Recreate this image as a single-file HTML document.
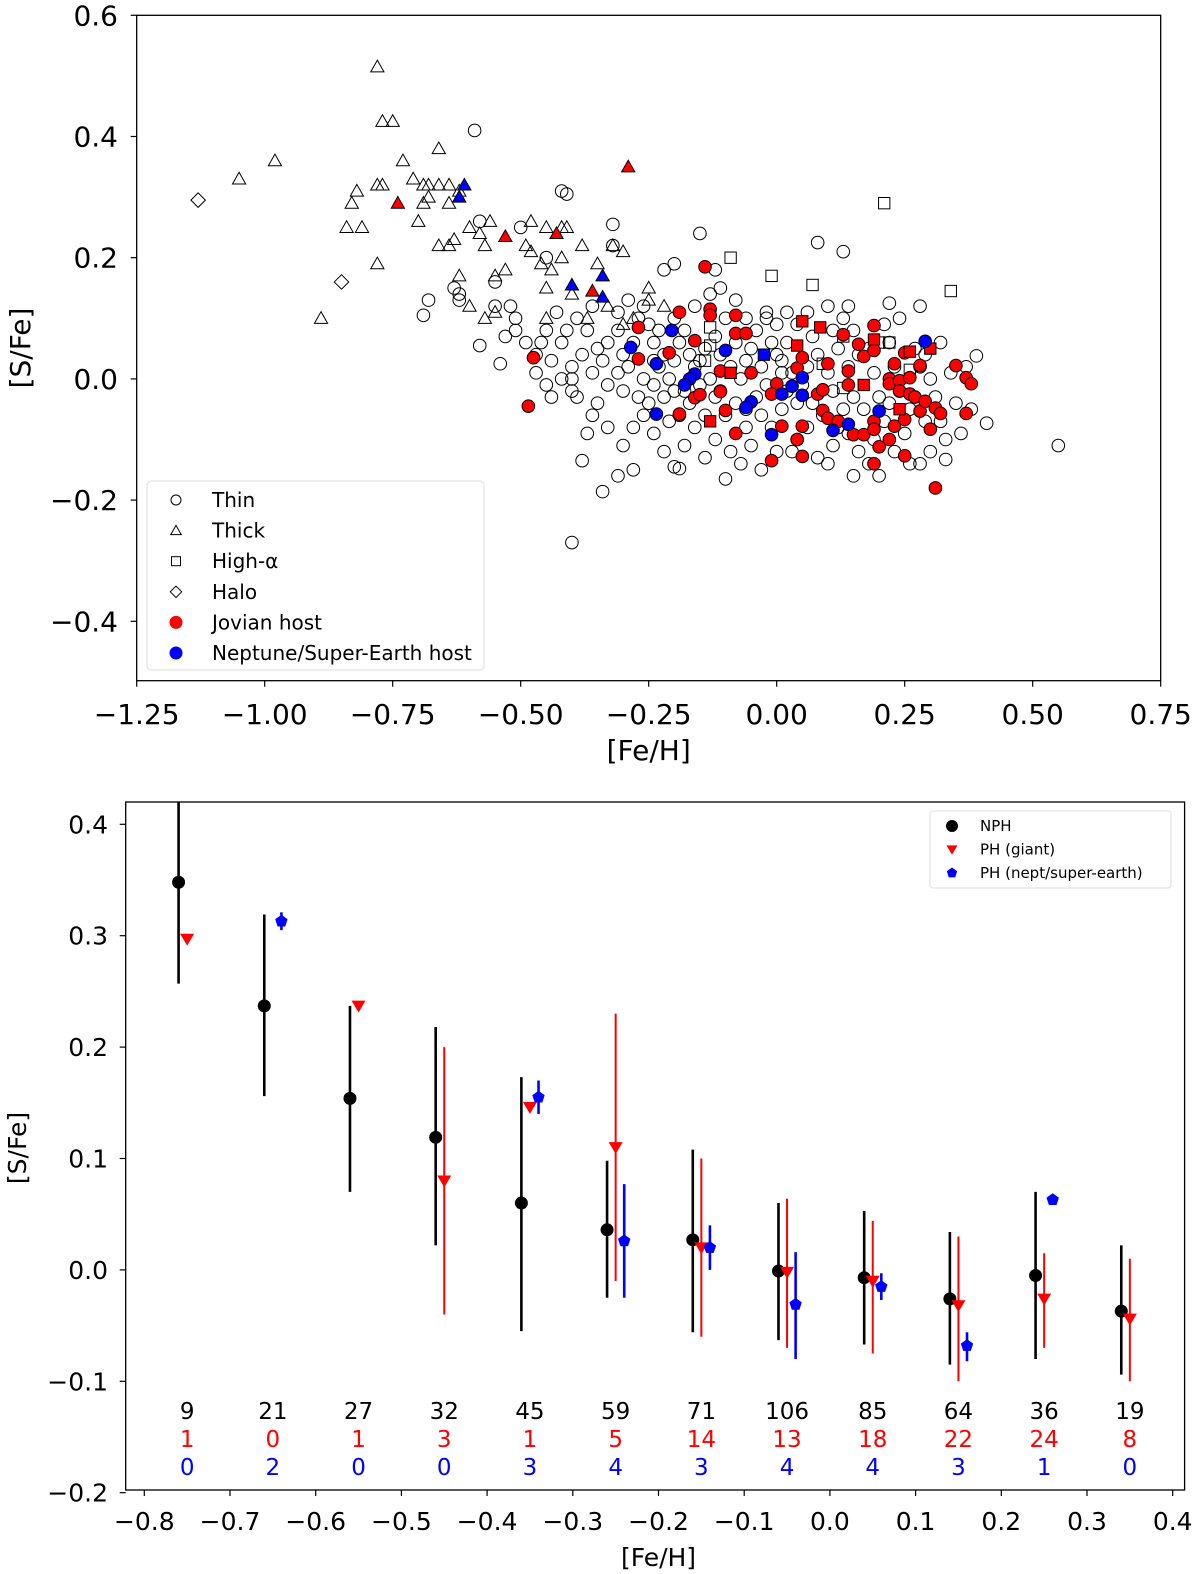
<!DOCTYPE html>
<html><head><meta charset="utf-8"><style>
html,body{margin:0;padding:0;background:#fff;}
svg{display:block;font-family:"DejaVu Sans","Liberation Sans",sans-serif;}
</style></head><body>
<svg id="fig" width="1200" height="1574" viewBox="0 0 1200 1574" xmlns="http://www.w3.org/2000/svg">
<g id="topPanel"></g>
<g id="botPanel"></g>
</svg>
<script>
// ---------- TOP PANEL DATA ----------
const thinPts = [[-0.59,0.41],[-0.40,-0.27],[0.55,-0.11],[0.41,-0.073],[0.39,0.038],[0.28,0.12],[0.22,0.125],[0.13,0.21],[0.08,0.225],[-0.15,0.24],[-0.32,0.255],[-0.68,0.13],[-0.69,0.105],[-0.58,0.055],[-0.54,0.025],[-0.34,-0.186],[-0.31,-0.16],[-0.28,-0.15],[-0.37,-0.09],[-0.38,-0.135],[-0.20,-0.145],[-0.19,-0.148],[-0.10,-0.165],[0.15,-0.16],[0.33,-0.133],[-0.32,0.22],[-0.41,0.305],[-0.42,0.31],[-0.45,0.20],[-0.63,0.15],[-0.62,0.13],[-0.62,0.14],[-0.58,0.26],[-0.50,0.25],[-0.55,0.16],[-0.55,0.12],[-0.52,0.12],[-0.51,0.10],[-0.51,0.08],[-0.53,0.07],[-0.46,0.06],[-0.45,0.08],[-0.47,0.04],[-0.44,0.03],[-0.42,0.06],[-0.41,0.08],[-0.43,0.11],[-0.39,0.10],[-0.36,0.12],[-0.37,0.08],[-0.38,0.04],[-0.40,0.02],[-0.40,0.00],[-0.40,-0.02],[-0.39,-0.03],[-0.35,0.05],[-0.34,0.03],[-0.33,0.06],[-0.31,0.08],[-0.30,0.04],[-0.29,0.02],[-0.28,0.06],[-0.27,0.10],[-0.25,0.09],[-0.24,0.06],[-0.22,0.04],[-0.31,0.01],[-0.33,-0.01],[-0.35,-0.04],[-0.30,-0.02],[-0.27,-0.03],[-0.26,0.0],[-0.24,-0.01],[-0.23,0.02],[-0.21,0.0],[-0.22,-0.03],[-0.20,0.03],[-0.19,0.06],[-0.18,0.08],[-0.17,0.04],[-0.16,0.02],[-0.18,-0.02],[-0.17,-0.04],[-0.15,-0.01],[-0.14,0.05],[-0.12,0.07],[-0.11,0.04],[-0.13,0.0],[-0.12,-0.03],[-0.14,-0.06],[-0.16,-0.08],[-0.19,-0.06],[-0.21,-0.07],[-0.24,-0.09],[-0.26,-0.06],[-0.28,-0.08],[-0.30,-0.11],[-0.18,-0.11],[-0.12,-0.10],[-0.09,-0.12],[-0.07,-0.14],[-0.05,-0.11],[-0.10,-0.06],[-0.08,-0.04],[-0.07,0.0],[-0.06,0.03],[-0.08,0.06],[-0.05,0.05],[-0.04,0.08],[-0.02,0.10],[-0.01,0.06],[0.00,0.04],[-0.03,0.02],[-0.02,-0.01],[-0.04,-0.03],[-0.06,-0.05],[-0.03,-0.06],[-0.01,-0.08],[0.01,-0.05],[0.02,-0.02],[0.03,0.01],[0.02,0.06],[0.04,0.09],[0.06,0.11],[0.07,0.07],[0.08,0.04],[0.06,0.02],[0.05,-0.01],[0.07,-0.04],[0.09,-0.06],[0.06,-0.08],[0.04,-0.10],[0.03,-0.12],[0.08,-0.13],[0.11,-0.11],[0.12,-0.08],[0.11,-0.02],[0.10,0.01],[0.12,0.05],[0.11,0.08],[0.13,0.10],[0.15,0.08],[0.16,0.04],[0.14,0.02],[0.15,-0.03],[0.17,-0.05],[0.16,-0.12],[0.18,-0.14],[0.19,-0.10],[0.21,-0.07],[0.20,-0.03],[0.19,0.01],[0.18,0.05],[0.21,0.09],[0.22,0.06],[0.23,0.02],[0.24,-0.02],[0.23,-0.12],[0.25,-0.09],[0.26,-0.05],[0.27,0.05],[0.29,0.04],[0.30,0.0],[0.31,-0.03],[0.32,-0.07],[0.33,-0.10],[0.30,-0.12],[0.34,0.01],[0.35,-0.04],[0.36,-0.09],[0.37,0.02],[0.38,-0.05],[0.28,-0.14],[0.26,-0.14],[0.20,-0.16],[0.10,-0.14],[0.00,-0.12],[-0.03,-0.15],[-0.14,-0.13],[-0.22,-0.12],[-0.45,-0.01],[-0.47,0.01],[-0.49,0.06],[-0.36,-0.06],[-0.33,-0.08],[-0.23,0.08],[-0.20,0.10],[-0.16,0.12],[-0.10,0.10],[-0.08,0.13],[-0.06,0.10],[0.00,0.09],[0.02,0.11],[-0.12,0.18],[-0.11,0.15],[-0.13,0.14],[-0.02,0.11],[-0.20,0.19],[-0.22,0.18],[-0.26,0.12],[-0.31,0.11],[-0.29,0.13],[0.10,0.12],[0.14,0.12],[0.24,0.10],[0.32,0.06],[0.28,0.02],[-0.25,-0.04],[-0.20,-0.02],[-0.11,-0.02],[-0.09,0.02],[0.01,0.01],[0.04,-0.04],[0.13,-0.05],[0.14,-0.09],[0.22,-0.04],[0.29,-0.07],[-0.06,-0.08],[0.01,0.03],[-0.15,0.03],[-0.24,0.03],[-0.36,0.01],[-0.42,0.0],[-0.44,-0.03]];
const thickPts = [[-0.78,0.515],[-0.77,0.425],[-0.75,0.425],[-0.98,0.36],[-1.05,0.33],[-0.66,0.38],[-0.73,0.36],[-0.78,0.32],[-0.77,0.32],[-0.82,0.31],[-0.83,0.29],[-0.84,0.25],[-0.81,0.25],[-0.78,0.19],[-0.89,0.10],[-0.71,0.33],[-0.69,0.32],[-0.68,0.32],[-0.66,0.32],[-0.64,0.32],[-0.62,0.31],[-0.68,0.30],[-0.69,0.29],[-0.64,0.29],[-0.70,0.26],[-0.66,0.22],[-0.64,0.22],[-0.63,0.23],[-0.60,0.25],[-0.57,0.22],[-0.56,0.26],[-0.58,0.24],[-0.62,0.17],[-0.49,0.22],[-0.48,0.21],[-0.53,0.18],[-0.55,0.17],[-0.46,0.19],[-0.44,0.18],[-0.42,0.20],[-0.45,0.15],[-0.48,0.26],[-0.45,0.25],[-0.42,0.25],[-0.41,0.25],[-0.38,0.22],[-0.35,0.19],[-0.32,0.22],[-0.30,0.21],[-0.40,0.14],[-0.33,0.12],[-0.25,0.15],[-0.25,0.13],[-0.55,0.11],[-0.57,0.10],[-0.45,0.10],[-0.60,0.12],[-0.37,0.10],[-0.30,0.09],[-0.28,0.10],[-0.22,0.12]];
const highAlphaPts = [[0.21,0.29],[0.34,0.145],[-0.09,0.20],[-0.01,0.17],[0.07,0.155],[-0.13,0.085],[0.20,0.06],[0.22,0.06],[0.13,0.07],[0.09,0.025],[0.26,0.015],[0.13,-0.015],[-0.13,0.055],[-0.14,0.03]];
const haloPts = [[-1.13,0.295],[-0.85,0.16]];
const jovCirc = [[-0.14,0.185],[-0.19,0.11],[-0.13,0.115],[-0.13,0.105],[-0.08,0.105],[-0.08,0.075],[-0.06,0.075],[-0.27,0.085],[-0.16,0.063],[-0.21,0.043],[-0.27,0.033],[-0.475,0.035],[-0.485,-0.045],[-0.19,-0.058],[-0.16,-0.031],[-0.15,-0.026],[-0.11,-0.021],[-0.10,-0.052],[-0.08,-0.09],[-0.05,0.01],[0.00,-0.008],[-0.01,-0.025],[0.01,-0.078],[-0.01,-0.135],[0.04,0.018],[0.05,0.035],[0.05,-0.078],[0.04,-0.10],[0.05,-0.128],[0.10,0.025],[0.08,-0.025],[0.09,-0.018],[0.09,-0.052],[0.10,-0.065],[0.12,-0.07],[0.14,0.013],[0.14,-0.01],[0.13,0.073],[0.16,0.057],[0.17,0.037],[0.19,0.088],[0.19,0.047],[0.15,-0.092],[0.17,-0.092],[0.19,-0.07],[0.19,-0.083],[0.20,-0.112],[0.22,-0.10],[0.19,-0.14],[0.23,0.025],[0.22,0.0],[0.22,-0.008],[0.24,-0.003],[0.24,-0.02],[0.26,0.002],[0.26,-0.025],[0.27,-0.03],[0.25,0.043],[0.28,0.022],[0.23,-0.078],[0.25,-0.067],[0.25,-0.127],[0.28,-0.053],[0.29,-0.037],[0.30,-0.083],[0.31,-0.048],[0.32,-0.057],[0.31,-0.18],[0.35,0.022],[0.37,0.002],[0.38,-0.008],[0.37,-0.057],[-0.11,0.013]];
const jovTri = [[-0.74,0.29],[-0.29,0.35],[-0.53,0.235],[-0.43,0.24],[-0.36,0.145]];
const jovSq = [[0.05,0.095],[0.085,0.085],[0.04,0.055],[0.19,0.065],[0.30,0.05],[0.26,0.045],[-0.09,0.01],[0.17,-0.01],[-0.13,-0.07],[0.24,-0.05]];
const nepCirc = [[-0.205,0.08],[-0.285,0.052],[-0.235,0.025],[-0.16,0.008],[-0.17,0.0],[-0.235,-0.058],[-0.10,0.047],[-0.05,-0.038],[-0.06,-0.047],[-0.01,-0.092],[0.01,-0.025],[0.03,-0.012],[0.05,0.002],[0.05,-0.027],[0.11,-0.085],[0.14,-0.075],[0.20,-0.053],[0.29,0.062],[-0.18,-0.01]];
const nepTri = [[-0.61,0.32],[-0.62,0.30],[-0.40,0.155],[-0.34,0.17],[-0.34,0.135]];
const nepSq = [[-0.025,0.04]];
const topXTicks = [-1.25,-1.00,-0.75,-0.50,-0.25,0.00,0.25,0.50,0.75];
const topXLabels = ["−1.25","−1.00","−0.75","−0.50","−0.25","0.00","0.25","0.50","0.75"];
const topYTicks = [0.6,0.4,0.2,0.0,-0.2,-0.4];
const topYLabels = ["0.6","0.4","0.2","0.0","−0.2","−0.4"];
const topLegend = ["Thin","Thick","High-α","Halo","Jovian host","Neptune/Super-Earth host"];

// ---------- BOTTOM PANEL DATA ----------
const binCenters = [-0.75,-0.65,-0.55,-0.45,-0.35,-0.25,-0.15,-0.05,0.05,0.15,0.25,0.35];
const nphMean = [0.348,0.237,0.154,0.119,0.060,0.036,0.027,-0.001,-0.007,-0.026,-0.005,-0.037];
const nphHi = [0.44,0.319,0.237,0.218,0.173,0.098,0.108,0.060,0.053,0.034,0.070,0.022];
const nphLo = [0.257,0.156,0.070,0.022,-0.055,-0.025,-0.056,-0.063,-0.067,-0.085,-0.080,-0.094];
const phgMean = [0.297,null,0.237,0.080,0.146,0.110,0.020,-0.002,-0.010,-0.032,-0.026,-0.044];
const phgHi = [null,null,null,0.200,null,0.230,0.100,0.064,0.044,0.030,0.015,0.010];
const phgLo = [null,null,null,-0.040,null,-0.010,-0.060,-0.070,-0.075,-0.100,-0.070,-0.100];
const phnMean = [null,0.313,null,null,0.155,0.026,0.020,-0.031,-0.015,-0.068,0.063,null];
const phnHi = [null,0.321,null,null,0.170,0.077,0.040,0.016,-0.003,-0.056,null,null];
const phnLo = [null,0.305,null,null,0.140,-0.025,0.000,-0.080,-0.027,-0.082,null,null];
const countNPH = [9,21,27,32,45,59,71,106,85,64,36,19];
const countGiant = [1,0,1,3,1,5,14,13,18,22,24,8];
const countNept = [0,2,0,0,3,4,3,4,4,3,1,0];
const botXTicks = [-0.8,-0.7,-0.6,-0.5,-0.4,-0.3,-0.2,-0.1,0.0,0.1,0.2,0.3,0.4];
const botXLabels = ["−0.8","−0.7","−0.6","−0.5","−0.4","−0.3","−0.2","−0.1","0.0","0.1","0.2","0.3","0.4"];
const botYTicks = [0.4,0.3,0.2,0.1,0.0,-0.1,-0.2];
const botYLabels = ["0.4","0.3","0.2","0.1","0.0","−0.1","−0.2"];
const botLegend = ["NPH","PH (giant)","PH (nept/super-earth)"];

const NS="http://www.w3.org/2000/svg";
function mk(tag, attrs, parent){const e=document.createElementNS(NS,tag);for(const k in attrs)e.setAttribute(k,attrs[k]);parent.appendChild(e);return e;}

// axis functions
const tx = v => 136.7 + (v + 1.25) * 512;
const ty = v => 15.3 + (0.6 - v) * 606;
const bx = v => 829.9 + v * 857;
const by = v => 824.3 + (0.4 - v) * 1114;

function marker(g, shape, cx, cy, fill, stroke, s){
  let e;
  if(shape==='circle'){e=mk('circle',{cx:cx,cy:cy,r:s,fill:fill,stroke:stroke,'stroke-width':1},g);}
  else if(shape==='tri'){e=mk('polygon',{points:`${cx},${cy-s*1.05} ${cx-s*1.05},${cy+s*0.8} ${cx+s*1.05},${cy+s*0.8}`,fill:fill,stroke:stroke,'stroke-width':1},g);}
  else if(shape==='sq'){e=mk('rect',{x:cx-s*0.9,y:cy-s*0.9,width:s*1.8,height:s*1.8,fill:fill,stroke:stroke,'stroke-width':1},g);}
  else if(shape==='dia'){e=mk('polygon',{points:`${cx},${cy-s*1.15} ${cx+s*1.15},${cy} ${cx},${cy+s*1.15} ${cx-s*1.15},${cy}`,fill:fill,stroke:stroke,'stroke-width':1},g);}
  else if(shape==='dtri'){e=mk('polygon',{points:`${cx-s},${cy-s*0.75} ${cx+s},${cy-s*0.75} ${cx},${cy+s*0.95}`,fill:fill,stroke:'none'},g);}
  else if(shape==='pent'){let p=[];for(let i=0;i<5;i++){const a=-Math.PI/2+i*2*Math.PI/5;p.push((cx+s*Math.cos(a)).toFixed(1)+','+(cy+s*Math.sin(a)).toFixed(1));}e=mk('polygon',{points:p.join(' '),fill:fill,stroke:'none'},g);}
  return e;
}

// ---------- TOP ----------
const topG=document.getElementById('topPanel');
const tL=136.7,tR=1160.7,tT=15.3,tB=680.7;
function drawSet(pts, shape, fill, name, s){
  const g=mk('g',{},topG);
  
  
  pts.forEach(p=>{
    const m=marker(g,shape,tx(p[0]),ty(p[1]),fill,'#000',s);
    
    
  });
}
drawSet(thinPts,'circle','none','thin',6.3);
drawSet(thickPts,'tri','none','thick',6.3);
drawSet(highAlphaPts,'sq','none','high-alpha',6.3);
drawSet(haloPts,'dia','none','halo',6.3);
drawSet(jovCirc,'circle','#ff0000','jovian-host',6.3);
drawSet(jovTri,'tri','#ff0000','jovian-host-thick',6.3);
drawSet(jovSq,'sq','#ff0000','jovian-host-high-alpha',6.3);
drawSet(nepCirc,'circle','#0000ff','neptune-host',6.3);
drawSet(nepTri,'tri','#0000ff','neptune-host-thick',6.3);
drawSet(nepSq,'sq','#0000ff','neptune-host-high-alpha',6.3);

const fr=mk('rect',{x:tL,y:tT,width:tR-tL,height:tB-tT,fill:'none',stroke:'#000','stroke-width':1.3},topG);


topXTicks.forEach((v,i)=>{
  mk('line',{x1:tx(v),x2:tx(v),y1:tB,y2:tB+6,stroke:'#000','stroke-width':1.2},topG);
  const t=mk('text',{x:tx(v),y:724,'font-size':28,'text-anchor':'middle',fill:'#000'},topG);
  t.textContent=topXLabels[i];
  
  
});
topYTicks.forEach((v,i)=>{
  mk('line',{x1:tL-6,x2:tL,y1:ty(v),y2:ty(v),stroke:'#000','stroke-width':1.2},topG);
  const t=mk('text',{x:118,y:ty(v)+10,'font-size':28,'text-anchor':'end',fill:'#000'},topG);
  t.textContent=topYLabels[i];
  
  
});
const xt=mk('text',{x:tx(-0.25),y:760,'font-size':28,'text-anchor':'middle'},topG);xt.textContent='[Fe/H]';


const yt=mk('text',{x:0,y:0,'font-size':28,'text-anchor':'middle',transform:'translate(30,348) rotate(-90)'},topG);yt.textContent='[S/Fe]';



// legend top
const lg=mk('g',{},topG);


mk('rect',{x:147,y:481,width:337,height:189,rx:4,fill:'#fff','fill-opacity':0.8,stroke:'#ddd','stroke-width':1},lg);
const legShapes=[['circle','none'],['tri','none'],['sq','none'],['dia','none'],['circle','#ff0000'],['circle','#0000ff']];
topLegend.forEach((lab,i)=>{
  const yy=500+i*30.6;
  const sh=legShapes[i][0], fill=legShapes[i][1];
  const sz=i>=4?6:5;
  marker(lg,sh,176,yy,fill,i>=4?fill:'#000',sz);
  const t=mk('text',{x:212,y:yy+7,'font-size':20,fill:'#000'},lg);
  t.textContent=lab;
  
  
});

// ---------- BOTTOM ----------
const botG=document.getElementById('botPanel');
const bL=125.7,bR=1184.6,bT=802,bB=1490;
const clip=mk('clipPath',{id:'bclip'},botG);
mk('rect',{x:bL,y:bT,width:bR-bL,height:bB-bT},clip);
const pg=mk('g',{'clip-path':'url(#bclip)'},botG);
function errSeries(means,his,los,off,color,shape,name,lw,s){
  const g=mk('g',{},pg);
  
  
  means.forEach((m,i)=>{
    if(m===null)return;
    const x=bx(binCenters[i]+off);
    if(his[i]!==null){
      const l=mk('line',{x1:x,x2:x,y1:by(his[i]),y2:by(los[i]),stroke:color,'stroke-width':lw},g);
      
      
    }
    const mm=marker(g,shape,x,by(m),color,color,s);
    
    
  });
}
errSeries(nphMean,nphHi,nphLo,-0.01,'#000','circle','nph',2.6,6);
errSeries(phgMean,phgHi,phgLo,0.0,'#ff0000','dtri','ph-giant',2,7);
errSeries(phnMean,phnHi,phnLo,0.01,'#0000ff','pent','ph-nept',2.6,6.5);

const fr2=mk('rect',{x:bL,y:bT,width:bR-bL,height:bB-bT,fill:'none',stroke:'#000','stroke-width':1.3},botG);


botXTicks.forEach((v,i)=>{
  mk('line',{x1:bx(v),x2:bx(v),y1:bB,y2:bB+6,stroke:'#000','stroke-width':1.2},botG);
  const t=mk('text',{x:bx(v),y:1530,'font-size':25,'text-anchor':'middle',fill:'#000'},botG);
  t.textContent=botXLabels[i];
  
  
});
botYTicks.forEach((v,i)=>{
  mk('line',{x1:bL-6,x2:bL,y1:by(v),y2:by(v),stroke:'#000','stroke-width':1.2},botG);
  const t=mk('text',{x:108,y:by(v)+9,'font-size':25,'text-anchor':'end',fill:'#000'},botG);
  t.textContent=botYLabels[i];
  
  
});
const xt2=mk('text',{x:bx(-0.2),y:1566,'font-size':25,'text-anchor':'middle'},botG);xt2.textContent='[Fe/H]';


const yt2=mk('text',{x:0,y:0,'font-size':25,'text-anchor':'middle',transform:'translate(26,1148) rotate(-90)'},botG);yt2.textContent='[S/Fe]';



// counts
const rows=[[countNPH,'#000',1419],[countGiant,'#ff0000',1447],[countNept,'#0000ff',1475]];
rows.forEach(r=>{
  const arr=r[0], col=r[1], yy=r[2];
  arr.forEach((c,i)=>{
    const t=mk('text',{x:bx(binCenters[i]),y:yy,'font-size':23,'text-anchor':'middle',fill:col},botG);
    t.textContent=String(c);
    
    
  });
});

// legend bottom
const lg2=mk('g',{},botG);


mk('rect',{x:930,y:811,width:241,height:77,rx:3,fill:'#fff','fill-opacity':0.8,stroke:'#ddd','stroke-width':1},lg2);
const lShapes=[['circle','#000'],['dtri','#ff0000'],['pent','#0000ff']];
botLegend.forEach((lab,i)=>{
  const yy=826+i*23.5;
  marker(lg2,lShapes[i][0],952,yy,lShapes[i][1],lShapes[i][1],5.5);
  const t=mk('text',{x:980,y:yy+5,'font-size':15,fill:'#000'},lg2);
  t.textContent=lab;
  
  
});
</script>
</body></html>
